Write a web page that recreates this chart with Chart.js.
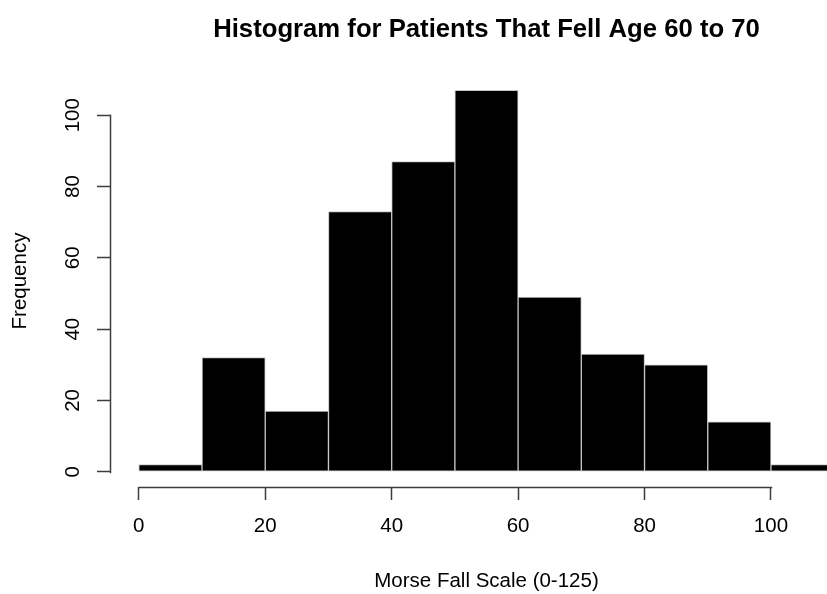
<!DOCTYPE html>
<html>
<head>
<meta charset="utf-8">
<title>Histogram for Patients That Fell Age 60 to 70</title>
<script src="https://cdn.jsdelivr.net/npm/chart.js@4/dist/chart.umd.min.js"></script>
<style>
  html, body { margin: 0; padding: 0; background: #fff; overflow: hidden; }
  #frame { width: 827px; height: 594px; overflow: hidden; position: relative; }
  #wrap { width: 862px; height: 594px; position: absolute; left: 0; top: 0; }
</style>
</head>
<body>
<div id="frame"><div id="wrap"><canvas id="hist" width="862" height="594"></canvas></div></div>
<script>
// Histogram bins (break points) and patient counts per bin
const breaks = [0, 10, 20, 30, 40, 50, 60, 70, 80, 90, 100, 110];
const counts = [2, 32, 17, 73, 87, 107, 49, 33, 30, 14, 2];
const xTicks = [0, 20, 40, 60, 80, 100];
const yTicks = [0, 20, 40, 60, 80, 100];

const chartTitle = 'Histogram for Patients That Fell Age 60 to 70';
const xTitle = 'Morse Fall Scale (0-125)';
const yTitle = 'Frequency';

// One bar per bin, centred on the bin midpoint
const binData = counts.map((c, i) => ({ x: (breaks[i] + breaks[i + 1]) / 2, y: c }));

// Padding around the data range, like R's default axis extension
const xSpan = breaks[breaks.length - 1] - breaks[0];
const ySpan = Math.max(...counts);
const xMin = breaks[0] - 0.04 * xSpan, xMax = breaks[breaks.length - 1] + 0.04 * xSpan;
const yMin = -0.04 * ySpan, yMax = ySpan + 0.04 * ySpan;

const FONT = '"Liberation Sans", Arial, Helvetica, sans-serif';
const AXIS_COLOR = '#3c3c3c';
Chart.defaults.font.family = FONT;
Chart.defaults.color = '#000';

// Axis lines that run only from the first to the last tick
const axisLines = {
  id: 'axisLines',
  afterDraw(chart) {
    const { ctx, chartArea, scales } = chart;
    const x = scales.x, y = scales.y;
    ctx.save();
    ctx.strokeStyle = AXIS_COLOR;
    ctx.lineWidth = 1.5;
    ctx.lineCap = 'square';
    const yb = Math.round(chartArea.bottom) + 0.5;
    const xl = Math.round(chartArea.left) - 0.5;
    ctx.beginPath();
    ctx.moveTo(Math.round(x.getPixelForValue(xTicks[0])) + 0.5, yb);
    ctx.lineTo(Math.round(x.getPixelForValue(xTicks[xTicks.length - 1])) + 0.5, yb);
    ctx.moveTo(xl, Math.round(y.getPixelForValue(yTicks[0])) + 0.5);
    ctx.lineTo(xl, Math.round(y.getPixelForValue(yTicks[yTicks.length - 1])) + 0.5);
    ctx.stroke();
    ctx.restore();
  }
};

new Chart(document.getElementById('hist'), {
  type: 'bar',
  data: {
    datasets: [{
      data: binData,
      backgroundColor: '#000',
      borderColor: '#c4c4c4',
      borderWidth: 1,
      borderSkipped: false,
      barPercentage: 1,
      categoryPercentage: 1
    }]
  },
  options: {
    responsive: false,
    devicePixelRatio: 1,
    animation: false,
    layout: { padding: 0 },
    plugins: {
      legend: { display: false },
      tooltip: { enabled: false },
      title: {
        display: true,
        text: chartTitle,
        fullSize: false,
        color: '#000',
        font: { family: FONT, size: 25.7, weight: 'bold', lineHeight: '30px' },
        padding: { top: 15, bottom: 30 }
      }
    },
    scales: {
      x: {
        type: 'linear',
        min: xMin,
        max: xMax,
        offset: false,
        afterBuildTicks: (s) => { s.ticks = xTicks.map(v => ({ value: v })); },
        afterFit: (s) => { s.height = 107; },
        grid: { display: true, offset: false, drawOnChartArea: false, drawTicks: true, tickLength: 13, tickColor: AXIS_COLOR, tickWidth: 1.5 },
        border: { display: false },
        ticks: { font: { size: 20.5 }, padding: 14, maxRotation: 0, minRotation: 0, autoSkip: false, color: '#000' },
        title: { display: true, text: xTitle, font: { size: 20.5 }, padding: { top: 0, bottom: 0 }, color: '#000' }
      },
      y: {
        type: 'linear',
        min: yMin,
        max: yMax,
        afterBuildTicks: (s) => { s.ticks = yTicks.map(v => ({ value: v })); },
        afterFit: (s) => { s.width = 111; },
        grid: { display: true, drawOnChartArea: false, drawTicks: true, tickLength: 14, tickColor: AXIS_COLOR, tickWidth: 1.5 },
        border: { display: false },
        ticks: { font: { size: 20.5 }, padding: 7, minRotation: 90, maxRotation: 90, crossAlign: 'center', autoSkip: false, color: '#000' },
        title: { display: true, text: yTitle, font: { size: 20.5 }, padding: { top: 8, bottom: 0 }, color: '#000' }
      }
    }
  },
  plugins: [axisLines]
});
</script>
</body>
</html>
